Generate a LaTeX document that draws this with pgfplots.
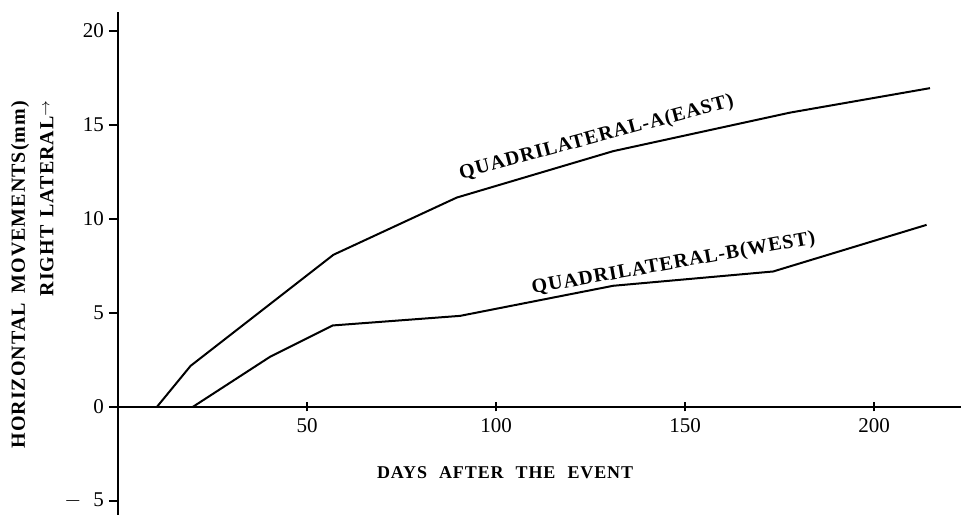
\documentclass[border=0pt]{standalone}
\usepackage{fontspec}
\setmainfont{Liberation Serif}
\newfontfamily\spaced[LetterSpace=5]{Liberation Serif}
\usepackage{pgfplots}
\pgfplotsset{compat=1.18}
\begin{document}
\begin{tikzpicture}
\begin{axis}[
  scale only axis, width=421.5pt, height=251.5pt,
  xmin=0, xmax=223, ymin=-5.75, ymax=21,
  axis x line=middle, axis y line=left,
  axis line style={-, line width=0.9pt, black},
  every outer x axis line/.append style={-},
  every outer y axis line/.append style={-},
  every inner x axis line/.append style={-},
  every inner y axis line/.append style={-},
  xtick={50,100,150,200}, ytick={-5,0,5,10,15,20},
  yticklabels={$-$\hspace{6pt}5,0,5,10,15,20},
  hide obscured x ticks=false, hide obscured y ticks=false,
  xtick align=center, ytick align=outside,
  major tick length=4.5pt,
  tick style={black, line width=0.8pt},
  tick label style={font=\fontsize{10.5}{12}\selectfont},
  yticklabel style={xshift=1pt},
  /pgf/number format/assume math mode=true,
  clip=false,
]
\addplot[black, line width=1pt] coordinates {
  (10.3,0) (19.2,2.18) (57,8.09) (89.6,11.13) (131,13.6) (177.8,15.65) (214.8,16.95)};
\addplot[black, line width=1pt] coordinates {
  (19.8,0) (40.2,2.66) (56.8,4.33) (90.5,4.84) (131,6.44) (173.3,7.2) (213.9,9.68)};
\node[rotate=15] at (axis cs:126.6,14.3) {\fontsize{10}{12}\selectfont\spaced\bfseries QUADRILATERAL-A(EAST)};
\node[rotate=10] at (axis cs:147,7.6) {\fontsize{10}{12}\selectfont\spaced\bfseries QUADRILATERAL-B(WEST)};
\node at (axis cs:102.4,-3.51) {\fontsize{9}{11}\selectfont\spaced\bfseries DAYS\hspace{6pt}AFTER\hspace{6pt}THE\hspace{6pt}EVENT};
\node[rotate=90] at (axis cs:-25.9,7.02) {\fontsize{10}{12}\selectfont\spaced\bfseries HORIZONTAL\hspace{5pt}MOVEMENTS(mm)};
\node[rotate=90] at (axis cs:-18.8,11.09) {\fontsize{10}{12}\selectfont\spaced\bfseries RIGHT\hspace{4pt}LATERAL\raisebox{2pt}{\scriptsize$\rightarrow$}};
\coordinate (ll) at (rel axis cs:0,0);
\coordinate (ur) at (rel axis cs:1,1);
\end{axis}
\pgfresetboundingbox
\path[use as bounding box] ([xshift=-59pt]ll) rectangle ([yshift=6pt]ur);
\end{tikzpicture}
\end{document}
